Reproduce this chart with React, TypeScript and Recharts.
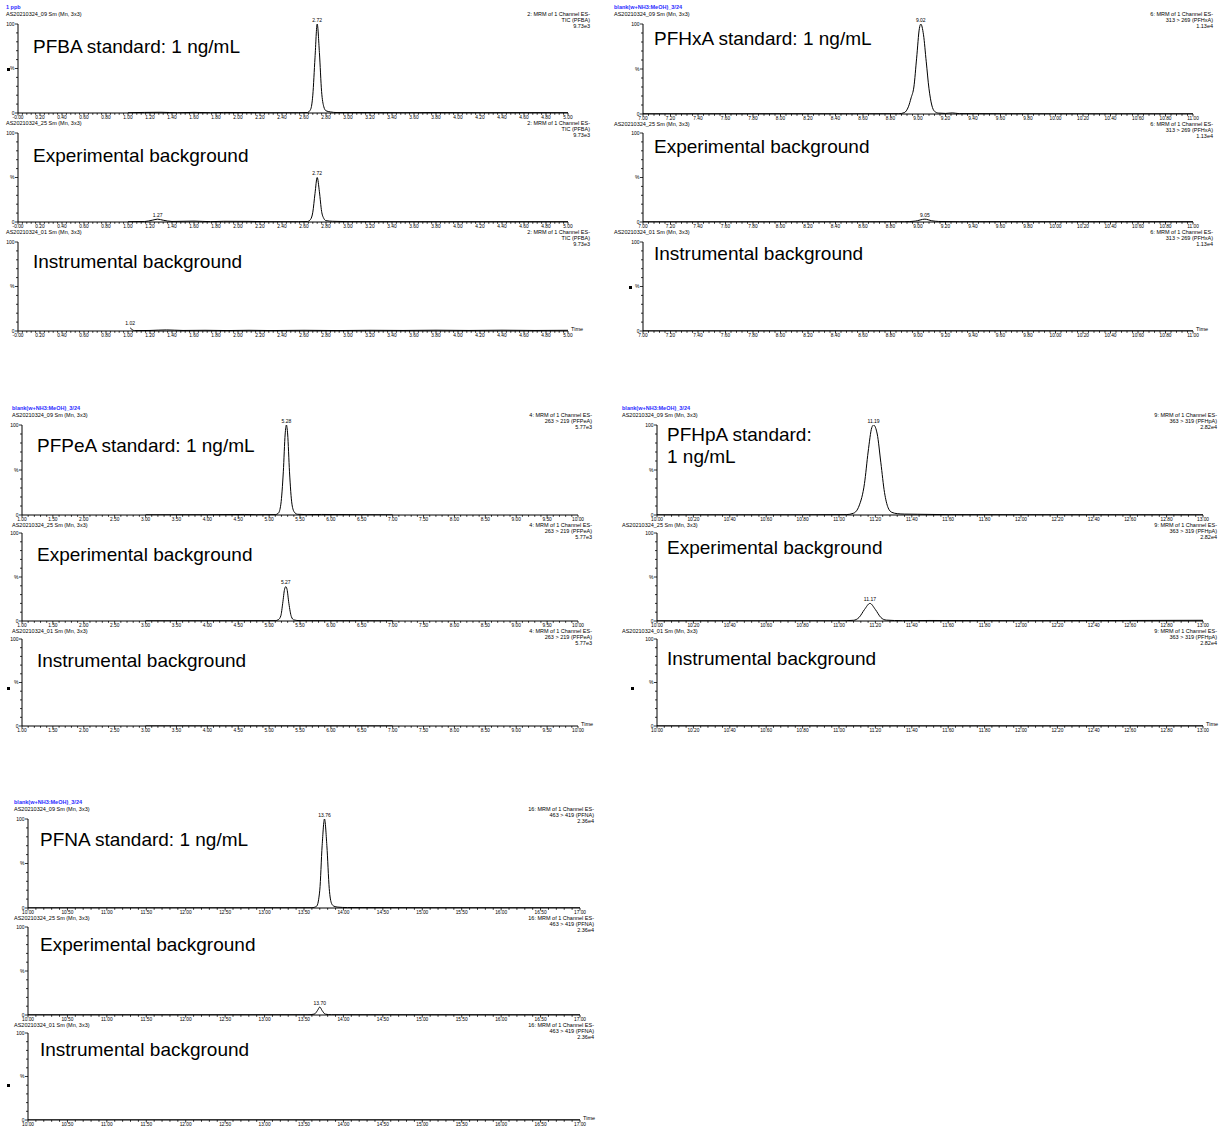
import React from "react";
import { LineChart, Line, XAxis, YAxis, ReferenceDot } from "recharts";

type P = [number, number];

// retention time (min) vs relative intensity (%)
const PFBA_STD: P[] = [[1.0,0.3],[1.3,0.8],[1.45,0.3],[1.6,0.7],[1.75,0.3],[1.87,0.6],[2.1,0.5],[2.3,0.2],[2.55,0.3],[2.63,0.5],[2.66,4],[2.68,20],[2.7,62],[2.72,100],[2.74,68],[2.76,24],[2.78,7],[2.8,2.5],[2.84,1.2],[2.9,0.5],[3.2,0.5],[3.5,0.3],[3.8,0.5],[4.2,0.3],[4.6,0.4],[5.0,0.3]];
const PFBA_EXP: P[] = [[1.0,0.3],[1.15,0.5],[1.22,2],[1.27,3.2],[1.32,2],[1.4,0.6],[1.6,1],[1.75,0.4],[1.87,0.8],[2.1,0.7],[2.3,0.3],[2.55,0.3],[2.63,0.5],[2.66,3],[2.68,11],[2.7,32],[2.72,50],[2.74,34],[2.76,12],[2.78,4],[2.8,1.5],[2.86,0.8],[3.0,0.4],[3.5,0.3],[4.0,0.3],[4.5,0.3],[5.0,0.3]];
const PFBA_INS: P[] = [[1.02,3.5],[1.06,0.4],[1.2,0.6],[1.35,1.2],[1.5,0.6],[1.7,0.8],[1.9,0.5],[2.1,0.8],[2.3,0.5],[2.6,0.8],[2.9,0.5],[3.2,0.8],[3.5,0.6],[3.8,0.9],[4.1,0.6],[4.4,0.9],[4.7,0.6],[5.0,0.8]];

const PFHXA_STD: P[] = [[7.0,0.2],[8.0,0.3],[8.5,0.2],[8.86,0.3],[8.9,1.5],[8.93,8],[8.95,18],[8.97,30],[8.99,62],[9.01,95],[9.02,100],[9.04,88],[9.06,58],[9.08,28],[9.1,10],[9.12,3],[9.15,1],[9.2,0.6],[9.25,1.2],[9.3,0.4],[10.0,0.2],[11.0,0.2]];
const PFHXA_EXP: P[] = [[7.0,0.2],[8.5,0.2],[8.9,0.3],[8.98,1],[9.05,3.2],[9.1,1.4],[9.15,0.6],[9.3,0.3],[9.6,0.4],[10.0,0.3],[10.5,0.4],[11.0,0.3]];
const PFHXA_INS: P[] = [[7.0,0.1],[11.0,0.1]];

const PFPEA_STD: P[] = [[3.0,0.2],[4.0,0.3],[4.6,0.6],[4.8,0.3],[5.1,0.4],[5.15,2],[5.19,12],[5.23,48],[5.26,90],[5.28,100],[5.3,90],[5.33,48],[5.37,12],[5.41,3],[5.46,0.8],[5.6,0.4],[5.85,0.6],[6.5,0.3],[7.0,0.2]];
const PFPEA_EXP: P[] = [[3.0,0.2],[4.5,0.3],[5.1,0.4],[5.15,1.5],[5.19,6],[5.22,20],[5.25,36],[5.27,39],[5.29,36],[5.32,20],[5.36,5],[5.4,1.2],[5.5,0.4],[7.0,0.2]];
const PFPEA_INS: P[] = [[3.0,0.1],[7.0,0.1]];

const PFHPA_STD: P[] = [[10.0,0.2],[10.8,0.2],[11.04,0.4],[11.08,2],[11.11,10],[11.14,35],[11.16,70],[11.18,97],[11.19,100],[11.21,90],[11.23,58],[11.25,25],[11.27,8],[11.29,3],[11.32,1.5],[11.36,1],[11.43,0.8],[11.6,0.4],[12.0,0.3],[13.0,0.2]];
const PFHPA_EXP: P[] = [[10.0,0.2],[11.0,0.2],[11.08,0.8],[11.11,4],[11.14,13],[11.17,20],[11.2,13],[11.23,4],[11.26,1],[11.35,0.4],[11.5,0.6],[12.0,0.3],[12.4,0.5],[12.6,0.6],[13.0,0.8]];
const PFHPA_INS: P[] = [[10.0,0.1],[13.0,0.1]];

const PFNA_STD: P[] = [[10.0,0.2],[12.0,0.2],[13.6,0.3],[13.66,2],[13.7,20],[13.73,70],[13.76,100],[13.79,70],[13.82,22],[13.85,5],[13.88,2],[13.93,1],[14.05,0.5],[15.0,0.3],[17.0,0.2]];
const PFNA_EXP: P[] = [[10.0,0.2],[13.55,0.3],[13.63,1],[13.67,5],[13.7,9],[13.73,5],[13.77,1],[13.85,0.3],[17.0,0.2]];
const PFNA_INS: P[] = [[10.0,0.1],[17.0,0.1]];

// labelled apex positions
const PFBA_PEAKS: P[][] = [[[2.72,100]], [[1.27,3.2],[2.72,50]], [[1.02,3.5]]];
const PFHXA_PEAKS: P[][] = [[[9.02,100]], [[9.05,3.2]], []];
const PFPEA_PEAKS: P[][] = [[[5.28,100]], [[5.27,39]], []];
const PFHPA_PEAKS: P[][] = [[[11.19,100]], [[11.17,20]], []];
const PFNA_PEAKS: P[][] = [[[13.76,100]], [[13.7,9]], []];

const TRACES = [
  [PFBA_STD, PFBA_EXP, PFBA_INS],
  [PFHXA_STD, PFHXA_EXP, PFHXA_INS],
  [PFPEA_STD, PFPEA_EXP, PFPEA_INS],
  [PFHPA_STD, PFHPA_EXP, PFHPA_INS],
  [PFNA_STD, PFNA_EXP, PFNA_INS],
];
const PEAKS = [PFBA_PEAKS, PFHXA_PEAKS, PFPEA_PEAKS, PFHPA_PEAKS, PFNA_PEAKS];

const X_RANGES: P[] = [[0, 5], [7, 11], [1, 10], [10, 13], [10, 17]];
const X_STEPS = [0.2, 0.2, 0.5, 0.2, 0.5];
const FIRST_LABELS = ["-0.00", null, null, null, null];

const PANEL_TITLES = ["1 ppb", "blank(w+NH3:MeOH)_3/24", "blank(w+NH3:MeOH)_3/24", "blank(w+NH3:MeOH)_3/24", "blank(w+NH3:MeOH)_3/24"];
const SAMPLE_FILES = ["AS20210324_09 Sm (Mn, 3x3)", "AS20210324_25 Sm (Mn, 3x3)", "AS20210324_01 Sm (Mn, 3x3)"];
const CHANNELS = ["2: MRM of 1 Channel ES-", "6: MRM of 1 Channel ES-", "4: MRM of 1 Channel ES-", "9: MRM of 1 Channel ES-", "16: MRM of 1 Channel ES-"];
const TRANSITIONS = ["TIC (PFBA)", "313 > 269 (PFHxA)", "263 > 219 (PFPeA)", "363 > 319 (PFHpA)", "463 > 419 (PFNA)"];
const INTENSITIES = ["9.73e3", "1.13e4", "5.77e3", "2.82e4", "2.36e4"];
const STD_LABELS = ["PFBA standard: 1 ng/mL", "PFHxA standard: 1 ng/mL", "PFPeA standard: 1 ng/mL", "PFHpA standard:\n1 ng/mL", "PFNA standard: 1 ng/mL"];
const BKG_LABELS = ["Experimental background", "Instrumental background"];

const Y_TICKS = [0, 10, 20, 30, 40, 50, 60, 70, 80, 90, 100];

// page placement of each panel
const LAYOUT = [
  { left: 6, right: 590, x0: 18, x1: 568, tops: [24, 133, 242], bottoms: [113, 222, 331], textX: 33, textY: [47, 156, 262], marker: [8, 69] },
  { left: 614, right: 1213, x0: 643, x1: 1193, tops: [24, 133, 242], bottoms: [114, 222, 331], textX: 654, textY: [39, 147, 254], marker: [630, 287] },
  { left: 12, right: 592, x0: 22, x1: 578, tops: [425, 533, 639], bottoms: [515, 621, 726], textX: 37, textY: [446, 555, 661], marker: [8, 688] },
  { left: 622, right: 1217, x0: 657, x1: 1203, tops: [425, 533, 639], bottoms: [515, 621, 726], textX: 667, textY: [435, 548, 659], marker: [632, 688] },
  { left: 14, right: 594, x0: 28, x1: 580, tops: [819, 927, 1033], bottoms: [908, 1015, 1120], textX: 40, textY: [840, 945, 1050], marker: [8, 1085] },
];

const FONT = "'Liberation Sans', Arial, sans-serif";
const ML = 20, MR = 30, MT = 10, MB = 12;

function Chromatogram({ data, peaks, range, step, firstLabel, x0, x1, top, bottom }: any) {
  const rows = (data as P[]).map(([t, v]) => ({ t, v }));
  const minor = step / 5;
  const n = Math.round((range[1] - range[0]) / minor);
  const ticks = Array.from({ length: n + 1 }, (_, i) => +(range[0] + i * minor).toFixed(4));
  const w = x1 - x0;
  const h = bottom - top;

  const renderX = (p: any) => {
    const v = p.payload.value;
    const k = Math.round((v - range[0]) / minor);
    const major = k % 5 === 0;
    const label = k === 0 && firstLabel ? firstLabel : v.toFixed(2);
    return (
      <g key={`x${k}`}>
        <line x1={p.x} x2={p.x} y1={p.y} y2={p.y + (major ? 2.5 : 1.8)} stroke="#000" strokeWidth={0.8} />
        {major && (
          <text x={p.x} y={p.y + 6.3} textAnchor="middle" fontSize={4.8} fill="#000">{label}</text>
        )}
      </g>
    );
  };

  const renderY = (p: any) => {
    const v = p.payload.value;
    const lab = v === 100 ? "100" : v === 50 ? "%" : v === 0 ? "0" : null;
    return (
      <g key={`y${v}`}>
        <line x1={p.x - (lab ? 3 : 2)} x2={p.x} y1={p.y} y2={p.y} stroke="#000" strokeWidth={0.8} />
        {lab && (
          <text x={p.x - 3.5} y={p.y + 1.8} textAnchor="end" fontSize={5} fill="#000">{lab}</text>
        )}
      </g>
    );
  };

  return (
    <div style={{ position: "absolute", left: x0 - ML, top: top - MT }}>
      <LineChart
        width={w + ML + MR}
        height={h + MT + MB}
        data={rows}
        margin={{ top: MT, right: MR, bottom: 0, left: 0 }}
        style={{ fontFamily: FONT }}
      >
        <XAxis
          dataKey="t"
          type="number"
          domain={range}
          ticks={ticks}
          interval={0}
          height={MB}
          tickSize={0}
          tickMargin={0}
          tickLine={false}
          axisLine={{ stroke: "#000", strokeWidth: 1 }}
          tick={renderX}
          allowDataOverflow
        />
        <YAxis
          type="number"
          domain={[0, 100]}
          ticks={Y_TICKS}
          interval={0}
          width={ML}
          tickSize={0}
          tickMargin={0}
          tickLine={false}
          axisLine={{ stroke: "#000", strokeWidth: 1 }}
          tick={renderY}
          allowDataOverflow
        />
        <Line dataKey="v" type="monotone" stroke="#000" strokeWidth={1} dot={false} isAnimationActive={false} />
        {(peaks as P[]).map(([t, v]) => (
          <ReferenceDot
            key={t}
            x={t}
            y={v}
            r={0}
            ifOverflow="visible"
            shape={(s: any) => (
              <text x={s.cx} y={s.cy - 2.5} textAnchor="middle" fontSize={5} fill="#000">{t.toFixed(2)}</text>
            )}
          />
        ))}
      </LineChart>
    </div>
  );
}

const small = (x: number, y: number, text: string, align: "left" | "right", extra: any = {}) => (
  <div
    key={`${x}-${y}-${text}`}
    style={{
      position: "absolute",
      top: y - 3,
      fontSize: 5.5,
      lineHeight: "6px",
      whiteSpace: "nowrap",
      color: "#000",
      ...(align === "left" ? { left: x } : { right: 1219 - x, textAlign: "right" }),
      ...extra,
    }}
  >
    {text}
  </div>
);

export default function App() {
  return (
    <div style={{ position: "absolute", left: 0, top: 0, width: 1219, height: 1133, background: "#fff", fontFamily: FONT, overflow: "hidden" }}>
      {LAYOUT.map((L, pi) => (
        <React.Fragment key={pi}>
          {small(L.left, L.tops[0] - 17, PANEL_TITLES[pi], "left", { color: "#2b2bff", fontWeight: "bold" })}
          {[0, 1, 2].map((si) => {
            const hy = si === 0 ? L.tops[0] - 10 : L.bottoms[si - 1] + 10;
            return (
              <React.Fragment key={si}>
                {small(L.left, hy, SAMPLE_FILES[si], "left")}
                {small(L.right, hy, CHANNELS[pi], "right")}
                {small(L.right, hy + 6, TRANSITIONS[pi], "right")}
                {small(L.right, hy + 12, INTENSITIES[pi], "right")}
                <Chromatogram
                  data={TRACES[pi][si]}
                  peaks={PEAKS[pi][si]}
                  range={X_RANGES[pi]}
                  step={X_STEPS[pi]}
                  firstLabel={FIRST_LABELS[pi]}
                  x0={L.x0}
                  x1={L.x1}
                  top={L.tops[si]}
                  bottom={L.bottoms[si]}
                />
                <div
                  style={{
                    position: "absolute",
                    left: L.textX,
                    top: L.textY[si] - 11,
                    fontSize: 19,
                    lineHeight: "22px",
                    whiteSpace: "pre-line",
                    color: "#000",
                  }}
                >
                  {si === 0 ? STD_LABELS[pi] : BKG_LABELS[si - 1]}
                </div>
              </React.Fragment>
            );
          })}
          {small(L.x1 + 3, L.bottoms[2] - 2, "Time", "left")}
          <div style={{ position: "absolute", left: L.marker[0] - 1.5, top: L.marker[1] - 1.5, width: 3, height: 3, background: "#000" }} />
        </React.Fragment>
      ))}
    </div>
  );
}
